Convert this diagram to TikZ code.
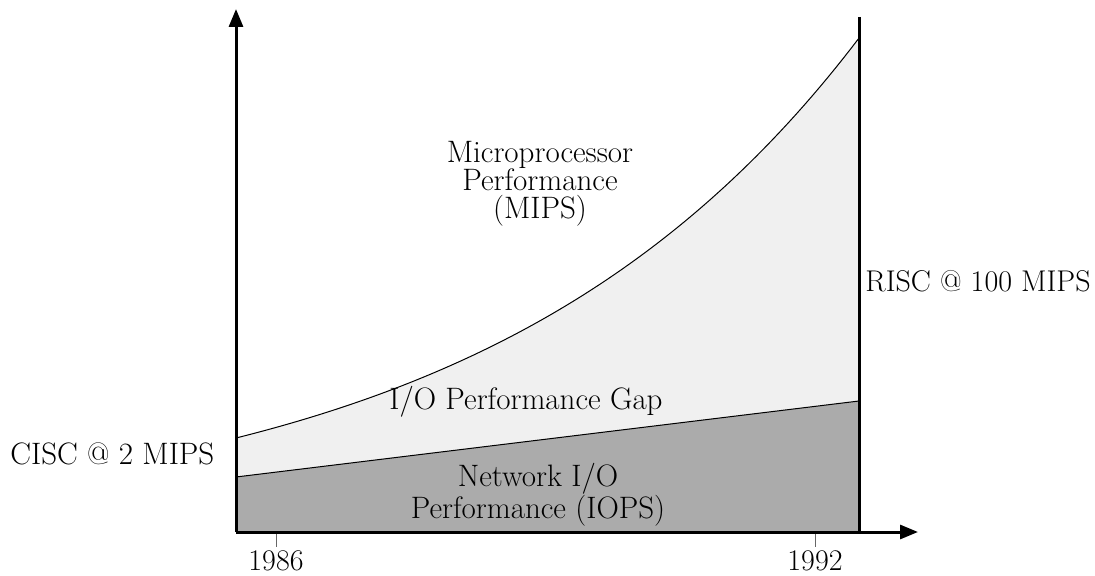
\documentclass[tikz,border=0pt]{standalone}
\usetikzlibrary{arrows.meta}
\begin{document}
\begin{tikzpicture}[x=0.5pt,y=-0.5pt,
  axis/.style={line width=1.5pt},
  thinline/.style={line width=0.5pt},
  lbl/.style={font=\fontsize{15}{14}\selectfont, inner sep=0pt},
  blk/.style={align=center, inner sep=0pt},
  tick/.style={line width=0.5pt, draw=black!60},
  tip/.style={-{Triangle[length=9pt,width=7pt]}}]
\useasboundingbox (0,0) rectangle (1095,576);
% key points
\coordinate (O) at (236,532);
\coordinate (Ytop) at (236,9);
\coordinate (Xend) at (918,532);
\coordinate (Rtop) at (859,17);
\coordinate (Rbot) at (859,532);
\coordinate (IOl) at (236,477);
\coordinate (IOr) at (859,401);
% light band under the MIPS curve
\fill[black!6] (O) -- plot[domain=236:859, samples=80] (\x, {532-94*exp(1.6592*(\x-236)/623)}) -- (Rbot) -- cycle;
% dark band (IOPS)
\fill[black!33] (O) -- (IOl) -- (IOr) -- (Rbot) -- cycle;
\draw[thinline] (IOl) -- (IOr);
\draw[thinline] plot[domain=236:859, samples=80] (\x, {532-94*exp(1.6592*(\x-236)/623)});
% ticks
\coordinate (t1a) at (276,532); \coordinate (t1b) at (276,547);
\coordinate (t2a) at (815,532); \coordinate (t2b) at (815,547);
\draw[tick] (t1a) -- (t1b);
\draw[tick] (t2a) -- (t2b);
% axes
\draw[axis] (Rtop) -- (Rbot);
\draw[axis, tip] (O) -- (Ytop);
\draw[axis, tip] (O) -- (Xend);
% labels
\node[blk, font=\fontsize{15.5}{14}\selectfont] (mips) at (540,184) {Microprocessor\\Performance\\(MIPS)};
\node[lbl, font=\fontsize{15.5}{14}\selectfont, anchor=base west] (gap) at (389,409) {I/O Performance Gap};
\node[blk, font=\fontsize{15.5}{16}\selectfont] (iops) at (538,495) {Network I/O\\Performance (IOPS)};
\node[lbl, font=\fontsize{15.5}{14}\selectfont, anchor=base west] (cisc) at (10,464) {CISC @ 2 MIPS};
\node[lbl, anchor=base west] (risc) at (865,292) {RISC @ 100 MIPS};
\node[lbl, anchor=base] (y86) at (276,570) {1986};
\node[lbl, anchor=base] (y92) at (815,570) {1992};
\end{tikzpicture}
\end{document}
